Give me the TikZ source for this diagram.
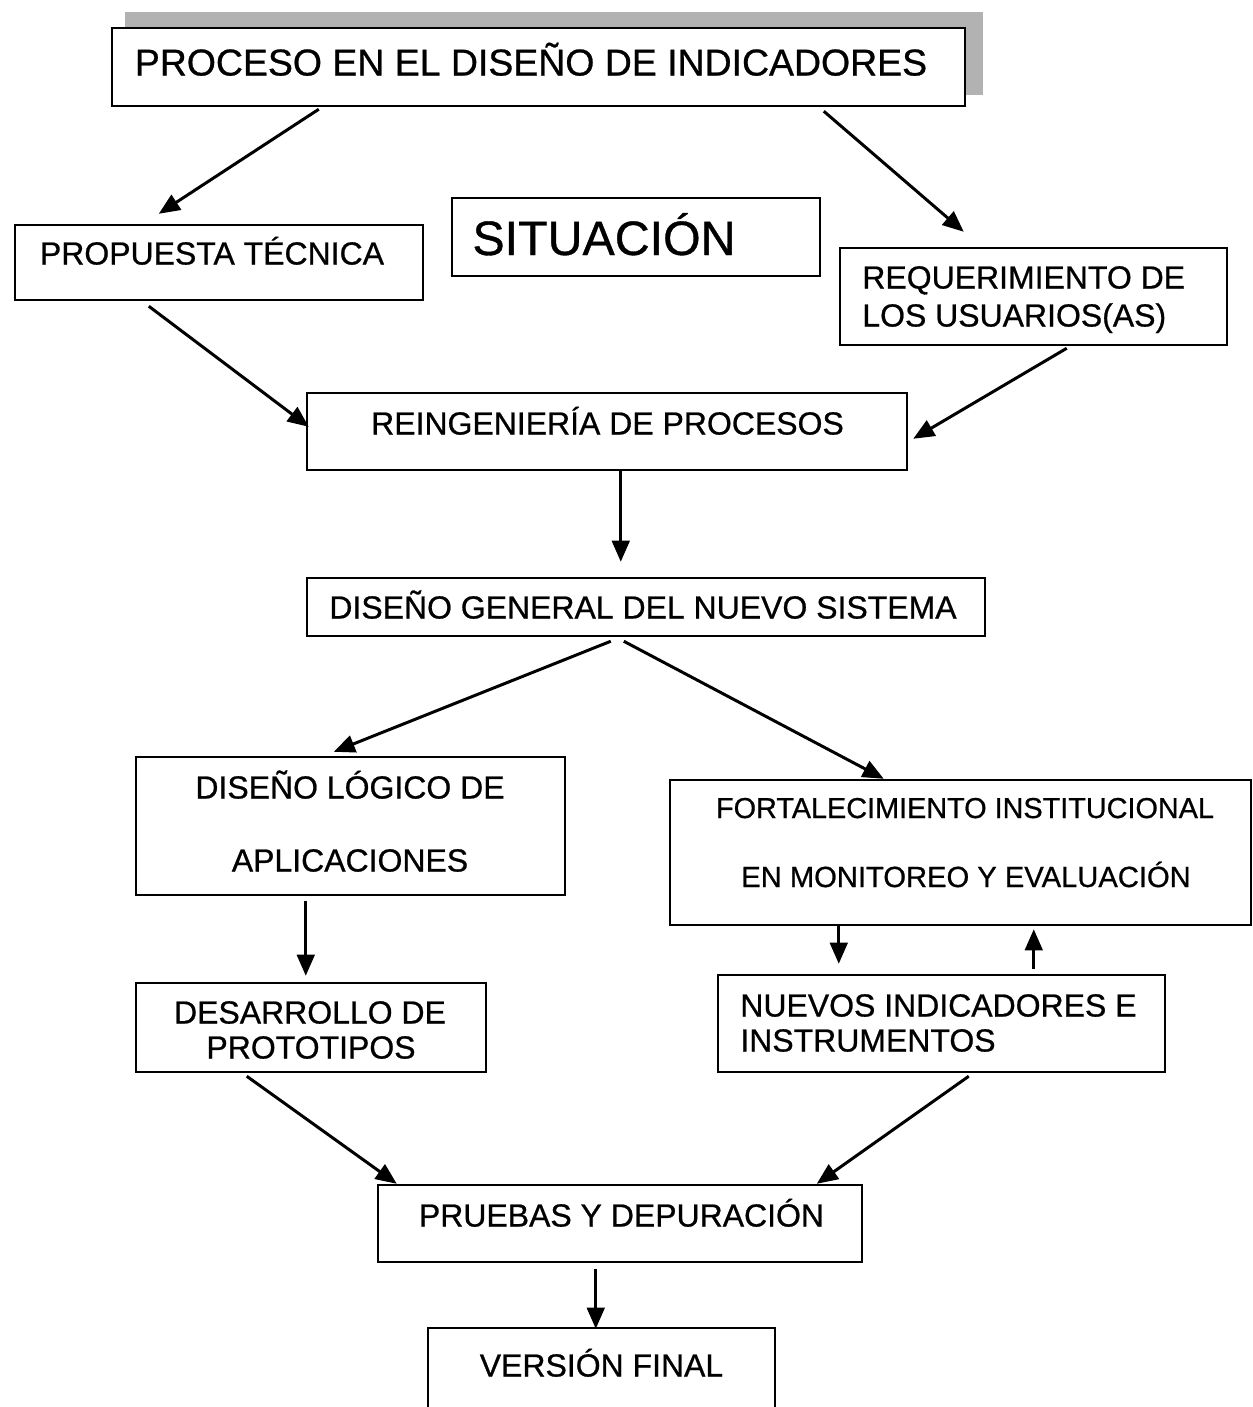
\documentclass[tikz,border=0pt]{standalone}
\usepackage{fontspec}
\setmainfont[FakeBold=0.7]{Liberation Sans}
\usetikzlibrary{fit,calc,arrows.meta}
\begin{document}
\begin{tikzpicture}[x=0.02cm,y=-0.02cm,
  box/.style={draw=black, line width=1.4pt, inner sep=0pt, fill=white},
  lbl/.style={anchor=base, inner sep=0pt, font=\fontsize{18.2}{21}\selectfont},
  lblw/.style={lbl, anchor=base west},
  conn/.style={line width=1.7pt, -{Triangle[length=12pt,width=10pt]}}]
\useasboundingbox (0,0) rectangle (1253,1407);
\fill[white] (0,0) rectangle (1253,1407);

% title with its shadow
\fill[gray!60] (125,12) rectangle (983,95);
\node[box, fit={(112,28) (965,106)}] (title) {};
\node[lbl, font=\fontsize{21.3}{25}\selectfont] (titleT) at (531,75.5) {PROCESO EN EL DISEÑO DE INDICADORES};

% boxes
\node[box, fit={(15,225) (423,300)}] (prop) {};
\node[lbl] (propT) at (212,264.5) {PROPUESTA TÉCNICA};

\node[box, fit={(452,198) (820,276)}] (sit) {};
\node[lbl, font=\fontsize{27.5}{32}\selectfont] (sitT) at (604,255) {SITUACIÓN};

\node[box, fit={(840,248) (1227,345)}] (req) {};
\node[lblw] (reqT1) at (862,288.5) {REQUERIMIENTO DE};
\node[lblw] (reqT2) at (862,326.5) {LOS USUARIOS(AS)};

\node[box, fit={(307,393) (907,470)}] (reing) {};
\node[lbl] (reingT) at (607.5,434.5) {REINGENIERÍA DE PROCESOS};

\node[box, fit={(307,578) (985,636)}] (gen) {};
\node[lbl] (genT) at (643,618.5) {DISEÑO GENERAL DEL NUEVO SISTEMA};

\node[box, fit={(136,757) (565,895)}] (logic) {};
\node[lbl] (logicT1) at (350,798.5) {DISEÑO LÓGICO DE};
\node[lbl] (logicT2) at (350,871.5) {APLICACIONES};

\node[box, fit={(670,780) (1251,925)}] (fort) {};
\node[lbl, font=\fontsize{16.4}{19}\selectfont] (fortT1) at (965,818) {FORTALECIMIENTO INSTITUCIONAL};
\node[lbl, font=\fontsize{16.6}{19}\selectfont] (fortT2) at (966,887) {EN MONITOREO Y EVALUACIÓN};

\node[box, fit={(136,983) (486,1072)}] (dev) {};
\node[lbl] (devT1) at (310,1023.5) {DESARROLLO DE};
\node[lbl] (devT2) at (311,1058.5) {PROTOTIPOS};

\node[box, fit={(718,975) (1165,1072)}] (nuevos) {};
\node[lblw] (nuevosT1) at (740,1016.5) {NUEVOS INDICADORES E};
\node[lblw] (nuevosT2) at (740,1051.5) {INSTRUMENTOS};

\node[box, fit={(378,1185) (862,1262)}] (prue) {};
\node[lbl] (prueT) at (621.5,1226.5) {PRUEBAS Y DEPURACIÓN};

\node[box, fit={(428,1328) (775,1415)}] (fin) {};
\node[lbl] (finT) at (601.5,1376.5) {VERSIÓN FINAL};

% connectors
\draw[conn] ($(title.south west)+(208,2)$) -- ($(prop.north west)+(145,-10)$);
\draw[conn] ($(title.south west)+(713,4)$) -- ($(req.north west)+(125,-15)$);
\draw[conn] ($(prop.south west)+(135,5)$) -- ($(reing.north west)+(3,35)$);
\draw[conn] ($(req.south west)+(228,2)$) -- ($(reing.north east)+(5,47)$);
\draw[conn] ($(reing.south west)+(315,0)$) -- ($(gen.north west)+(315,-15)$);
\draw[conn] ($(gen.south west)+(305,4)$) -- ($(logic.north west)+(199,-4)$);
\draw[conn] ($(gen.south west)+(318,4)$) -- ($(fort.north west)+(215,0)$);
\draw[conn] ($(logic.south west)+(171,5)$) -- ($(dev.north west)+(171,-6)$);
\draw[conn] ($(fort.south west)+(170,0)$) -- ($(nuevos.north west)+(122,-10)$);
\draw[conn] ($(nuevos.north west)+(317,-5)$) -- ($(fort.south west)+(365,3)$);
\draw[conn] ($(dev.south west)+(112,3)$) -- ($(prue.north west)+(20,0)$);
\draw[conn] ($(nuevos.south west)+(252,3)$) -- ($(prue.north west)+(440,0)$);
\draw[conn] ($(prue.south west)+(219,6)$) -- ($(fin.north west)+(169,2)$);
\end{tikzpicture}
\end{document}
